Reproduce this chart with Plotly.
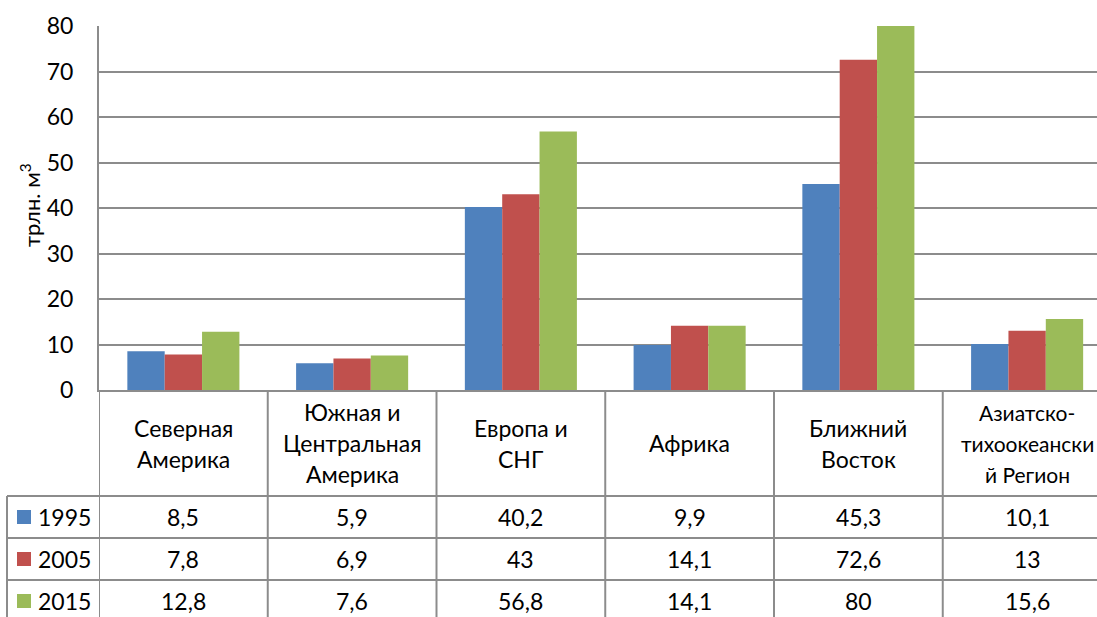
import plotly.graph_objects as go

categories = ["Северная\nАмерика", "Южная и\nЦентральная\nАмерика", "Европа и\nСНГ",
              "Африка", "Ближний\nВосток", "Азиатско-\nтихоокеански\nй Регион"]
years = ["1995", "2005", "2015"]
v1995 = [8.5, 5.9, 40.2, 9.9, 45.3, 10.1]
v2005 = [7.8, 6.9, 43, 14.1, 72.6, 13]
v2015 = [12.8, 7.6, 56.8, 14.1, 80, 15.6]
series = [v1995, v2005, v2015]
colors = ["#4F81BD", "#C0504D", "#9BBB59"]
y_ticks = [0, 10, 20, 30, 40, 50, 60, 70, 80]

W, H = 1097, 617
FONT = "Lato, 'Noto Sans', sans-serif"
FS = 23
GRID = "#8c8c8c"

def py(px):
    return 1 - px / H

x_idx = list(range(len(categories)))
fig = go.Figure()
for name, vals, col in zip(years, series, colors):
    fig.add_trace(go.Bar(x=x_idx, y=vals, name=name, marker=dict(color=col, line=dict(width=0)),
                         showlegend=False))

col_w = 168.75
left = 99
x_right = -0.5 + (W - left) / col_w

fig.update_layout(
    width=W, height=H, margin=dict(l=0, r=0, t=0, b=0, autoexpand=False),
    paper_bgcolor="white", plot_bgcolor="white",
    barmode="group", bargap=0.336, bargroupgap=0,
    font=dict(family=FONT, size=FS, color="black"),
    xaxis=dict(domain=[left / W, 1], range=[-0.5, x_right], showticklabels=False,
               showgrid=False, zeroline=False, showline=True, linecolor=GRID, linewidth=2,
               tickmode="array", tickvals=x_idx, automargin=False),
    yaxis=dict(domain=[py(390), py(26)], range=[0, 80], tickvals=y_ticks,
               showgrid=True, gridcolor=GRID, gridwidth=1.5, zeroline=False,
               showline=True, linecolor=GRID, linewidth=2, automargin=False,
               ticks="", ticklabelstandoff=19, tickfont=dict(size=FS, family=FONT)),
)

shapes = []
annotations = []
line = dict(color=GRID, width=2)
# vertical table lines at category boundaries
for i in range(len(categories)):
    shapes.append(dict(type="line", xref="x", yref="paper", x0=i - 0.5, x1=i - 0.5,
                       y0=py(390), y1=py(H + 5), line=line))
# legend column left border
shapes.append(dict(type="line", xref="paper", yref="paper", x0=7 / W, x1=7 / W,
                   y0=py(496), y1=py(H + 5), line=line))
# horizontal table lines
for yy in [496, 538, 580]:
    shapes.append(dict(type="line", xref="paper", yref="paper", x0=7 / W, x1=1,
                       y0=py(yy), y1=py(yy), line=line))

# header labels
for i, cat in enumerate(categories):
    parts = cat.split("\n")
    n = len(parts)
    fs = FS if max(len(p) for p in parts) < 12 else FS - 2
    for k, p in enumerate(parts):
        yc = 443 + (k - (n - 1) / 2) * 31
        annotations.append(dict(x=i, y=py(yc), xref="x", yref="paper", text=p,
                                showarrow=False, xanchor="center", yanchor="middle",
                                font=dict(size=fs, family=FONT)))

# rows
row_centers = [517, 559, 601]
for r, (name, vals, col) in enumerate(zip(years, series, colors)):
    yc = row_centers[r]
    shapes.append(dict(type="rect", xref="paper", yref="paper", x0=17 / W, x1=31 / W,
                       y0=py(yc + 7), y1=py(yc - 7), fillcolor=col, line=dict(width=0)))
    annotations.append(dict(x=36 / W, y=py(yc), xref="paper", yref="paper", text=name,
                            showarrow=False, xanchor="left", yanchor="middle",
                            font=dict(size=FS, family=FONT)))
    for i, v in enumerate(vals):
        annotations.append(dict(x=i, y=py(yc), xref="x", yref="paper",
                                text=f"{v:g}".replace(".", ","),
                                showarrow=False, xanchor="center", yanchor="middle",
                                font=dict(size=FS, family=FONT)))

# y-axis title
annotations.append(dict(x=30 / W, y=py(205), xref="paper", yref="paper",
                        text="трлн. м<sup>3</sup>", textangle=-90, showarrow=False,
                        xanchor="center", yanchor="middle", font=dict(size=FS - 1, family=FONT)))

fig.update_layout(shapes=shapes, annotations=annotations)
fig.write_html("out.html", config={"displayModeBar": False},
               post_script="document.documentElement.style.margin='0';"
                           "document.body.style.margin='0';"
                           "document.body.style.overflow='hidden';")
